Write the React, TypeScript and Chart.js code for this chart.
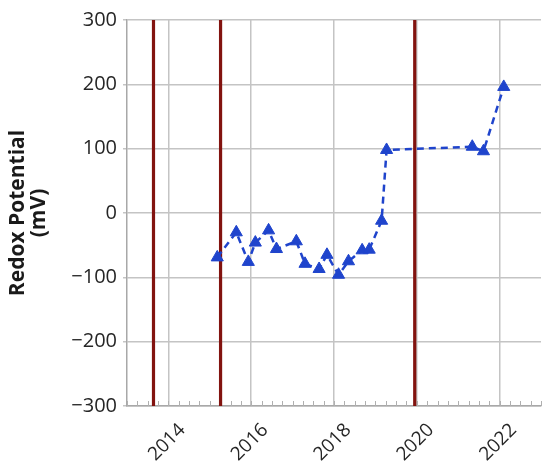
import { useEffect, useRef } from 'react';
import { Chart, registerables } from 'chart.js';

Chart.register(...registerables);

// Sample dates (decimal years) and redox potential (mV)
const sampleYears = [
  2015.18, 2015.64, 2015.93, 2016.1, 2016.42, 2016.61, 2017.09, 2017.3, 2017.64,
  2017.83, 2018.11, 2018.35, 2018.68, 2018.85, 2019.15, 2019.27, 2021.34, 2021.61, 2022.1,
];
const redoxMv = [
  -69, -30, -76, -46, -27, -56, -44, -79, -87, -65, -96, -75, -58, -57, -12, 98, 103, 96, 196,
];
// Event markers (vertical dark red lines)
const eventYears = [2013.64, 2015.26, 2019.95];
// Axis ticks
const xTickYears = [2014, 2016, 2018, 2020, 2022];
const xRange = [2013, 2023];
const yTicks = [-300, -200, -100, 0, 100, 200, 300];
const minorStep = 0.25;

const overlayPlugin = {
  id: 'overlay',
  beforeDatasetsDraw(chart: any) {
    const { ctx, chartArea, scales } = chart;
    const xs = scales.x;
    ctx.save();
    // minor ticks along the bottom
    ctx.strokeStyle = '#b0b0b0';
    ctx.lineWidth = 1;
    for (let v = xRange[0]; v <= xRange[1] + 1e-9; v += minorStep) {
      const px = Math.round(xs.getPixelForValue(v)) + 0.5;
      ctx.beginPath();
      ctx.moveTo(px, chartArea.bottom);
      ctx.lineTo(px, chartArea.bottom - 5);
      ctx.stroke();
    }
    // event lines
    ctx.strokeStyle = '#82130f';
    ctx.lineWidth = 3.2;
    eventYears.forEach((yr) => {
      const px = xs.getPixelForValue(yr);
      ctx.beginPath();
      ctx.moveTo(px, chartArea.top);
      ctx.lineTo(px, chartArea.bottom);
      ctx.stroke();
    });
    ctx.restore();
  },
};

function RedoxChart() {
  const ref = useRef<HTMLCanvasElement | null>(null);
  useEffect(() => {
    if (!ref.current) return;
    const chart = new Chart(ref.current, {
      type: 'line',
      data: {
        datasets: [
          {
            data: sampleYears.map((x, i) => ({ x, y: redoxMv[i] })),
            borderColor: '#1f44cc',
            backgroundColor: '#1f44cc',
            borderWidth: 2.5,
            borderDash: [7, 5],
            pointStyle: 'triangle',
            pointRadius: 7,
            pointBorderWidth: 1,
            pointBackgroundColor: '#1f44cc',
            pointBorderColor: '#1f44cc',
            tension: 0,
          },
        ],
      },
      options: {
        animation: false,
        responsive: true,
        maintainAspectRatio: false,
        layout: { autoPadding: false, padding: { top: 20, right: 3, left: 0, bottom: 0 } },
        plugins: { legend: { display: false }, tooltip: { enabled: false } },
        scales: {
          x: {
            type: 'linear',
            min: xRange[0],
            max: xRange[1],
            afterBuildTicks: (axis: any) => {
              axis.ticks = xTickYears.map((value) => ({ value }));
            },
            afterFit: (axis: any) => {
              axis.height = 61;
              axis.paddingLeft = 0;
              axis.paddingRight = 0;
            },
            grid: { color: '#c4c4c4', lineWidth: 1.5, drawTicks: false },
            border: { color: '#a8a8a8', width: 1.5 },
            ticks: {
              minRotation: 45,
              maxRotation: 45,
              labelOffset: 14,
              padding: 13,
              color: '#262626',
              font: { family: 'Open Sans', size: 19 },
              callback: (v: any) => String(v),
            },
          },
          y: {
            min: -300,
            max: 300,
            afterBuildTicks: (axis: any) => {
              axis.ticks = yTicks.map((value) => ({ value }));
            },
            afterFit: (axis: any) => {
              axis.width = 127;
              axis.paddingTop = 0;
              axis.paddingBottom = 0;
            },
            grid: { color: '#c4c4c4', lineWidth: 1.5, tickLength: 4 },
            border: { color: '#a8a8a8', width: 1.5 },
            ticks: {
              padding: 6,
              color: '#262626',
              font: { family: 'Open Sans', size: 20 },
              callback: (v: any) => (v < 0 ? '\u2212' + Math.abs(v) : String(v)),
            },
            title: {
              display: true,
              text: ['Redox Potential', '(mV)'],
              color: '#1a1a1a',
              font: { family: 'Open Sans', size: 21, weight: 'bold', lineHeight: 1.0 },
              padding: { top: 8, bottom: 0 },
            },
          },
        },
      },
      plugins: [overlayPlugin],
    } as any);
    return () => chart.destroy();
  }, []);
  return <canvas ref={ref} />;
}

export default function App() {
  return (
    <div style={{ position: 'absolute', left: 0, top: 0, width: 544, height: 467, background: '#fff' }}>
      <RedoxChart />
    </div>
  );
}
